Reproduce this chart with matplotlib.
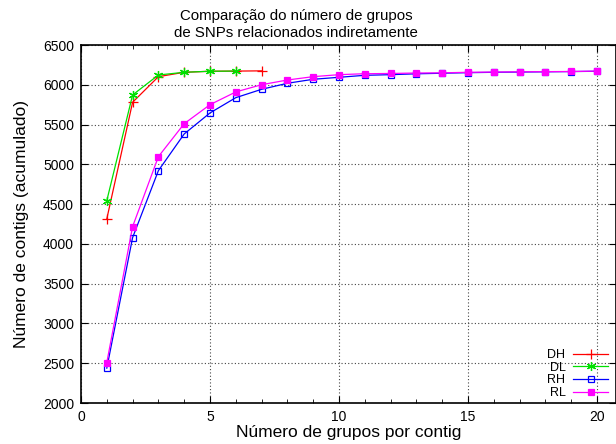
import matplotlib
matplotlib.use("Agg")
import matplotlib.pyplot as plt
from matplotlib.ticker import MultipleLocator

plt.rcParams['font.family'] = ['Liberation Sans', 'DejaVu Sans']

x_dh = [1, 2, 3, 4, 5, 6, 7]
dh = [4314, 5780, 6102, 6157, 6170, 6172, 6175]
x_dl = [1, 2, 3, 4, 5, 6]
dl = [4544, 5872, 6123, 6157, 6170, 6172]
x_r = list(range(1, 21))
rh = [2438, 4079, 4921, 5382, 5646, 5838, 5943, 6019, 6069, 6094,
      6119, 6127, 6138, 6145, 6152, 6157, 6160, 6163, 6166, 6170]
rl = [2509, 4217, 5097, 5511, 5750, 5910, 6001, 6060, 6102, 6127,
      6139, 6142, 6148, 6150, 6157, 6160, 6163, 6165, 6167, 6172]

title = "Comparação do número de grupos\nde SNPs relacionados indiretamente"
xlabel = "Número de grupos por contig"
ylabel = "Número de contigs (acumulado)"

W, H = 616, 444
fig = plt.figure(figsize=(W / 100, H / 100), dpi=100)
left, right, top, bottom = 81, 616, 45, 403
ax = fig.add_axes([left / W, 1 - bottom / H, (right - left) / W, (bottom - top) / H])

ax.plot(x_dh, dh, color='#ff0000', marker='+', ms=6.5, mew=0.9, lw=0.9, label='DH')
ax.plot(x_dl, dl, color='#00e000', marker=(6, 2, 0), ms=6.5, mew=0.9, lw=0.9, label='DL')
ax.plot(x_r, rh, color='#0000ff', marker='s', ms=5, mfc='none', mew=0.9, lw=0.9, label='RH')
ax.plot(x_r, rl, color='#ff00ff', marker='s', ms=5, mew=0.9, lw=0.9, label='RL')

ax.set_xlim(0, 20 * (right - left) / (597 - left))
ax.set_ylim(2000, 6500)
ax.xaxis.set_major_locator(MultipleLocator(5))
ax.xaxis.set_minor_locator(MultipleLocator(1))
ax.yaxis.set_major_locator(MultipleLocator(500))
ax.tick_params(which='both', direction='in', top=True, right=True, labelsize=10)
ax.tick_params(which='major', length=5, pad=5)
ax.tick_params(which='minor', length=3)
ax.grid(True, which='major', linestyle=(0, (1, 2)), color='#444444', lw=0.8)
for s in ax.spines.values():
    s.set_linewidth(1.2)

fig.text(296 / W, 1 - 9 / H, title, ha='center', va='top', fontsize=10.8, linespacing=1.3)
ax.set_xlabel(xlabel, fontsize=12.5, labelpad=1)
ax.set_ylabel(ylabel, fontsize=12.5, labelpad=10)

leg = ax.legend(loc='lower right', bbox_to_anchor=(608 / W, 1 - 399 / H),
                bbox_transform=fig.transFigure, frameon=False,
                markerfirst=False, fontsize=9, handlelength=2.8,
                labelspacing=0.05, borderaxespad=0, borderpad=0, handletextpad=0.6)

fig.savefig("out.png", dpi=100)
